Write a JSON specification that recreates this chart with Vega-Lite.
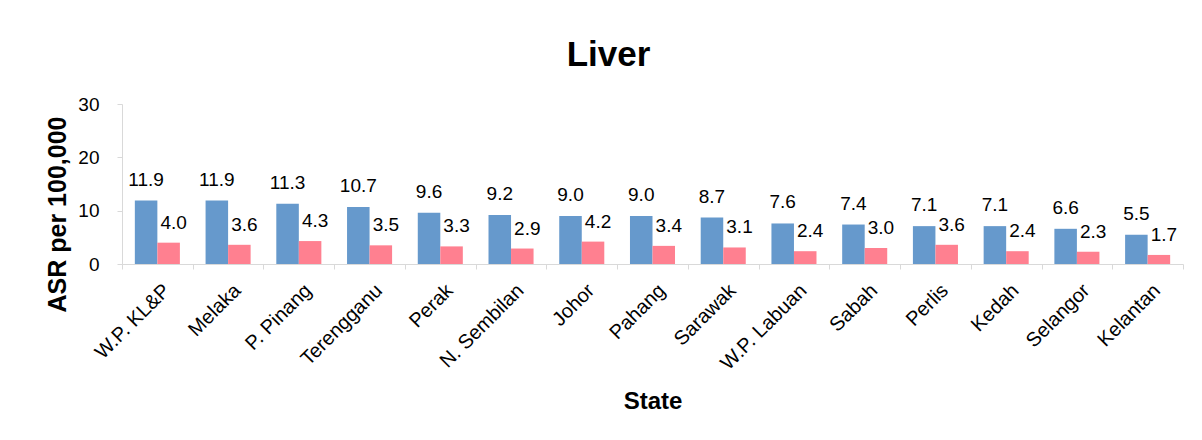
{
  "$schema": "https://vega.github.io/schema/vega-lite/v6.json",
  "width": 1061,
  "height": 160,
  "autosize": "none",
  "padding": {"left": 122, "top": 104, "right": 19, "bottom": 176},
  "background": "white",
  "config": {"font": "Liberation Sans", "view": {"stroke": null}},
  "title": {"text": "Liver", "fontSize": 35, "font": "Liberation Sans", "fontWeight": "bold", "color": "#000000", "anchor": "middle", "frame": "group", "baseline": "alphabetic", "offset": -6, "dx": -44},
  "data": {"values": [
    {"state": "W.P. KL&P", "sex": "Male", "asr": 11.9},
    {"state": "W.P. KL&P", "sex": "Female", "asr": 4.0},
    {"state": "Melaka", "sex": "Male", "asr": 11.9},
    {"state": "Melaka", "sex": "Female", "asr": 3.6},
    {"state": "P. Pinang", "sex": "Male", "asr": 11.3},
    {"state": "P. Pinang", "sex": "Female", "asr": 4.3},
    {"state": "Terengganu", "sex": "Male", "asr": 10.7},
    {"state": "Terengganu", "sex": "Female", "asr": 3.5},
    {"state": "Perak", "sex": "Male", "asr": 9.6},
    {"state": "Perak", "sex": "Female", "asr": 3.3},
    {"state": "N. Sembilan", "sex": "Male", "asr": 9.2},
    {"state": "N. Sembilan", "sex": "Female", "asr": 2.9},
    {"state": "Johor", "sex": "Male", "asr": 9.0},
    {"state": "Johor", "sex": "Female", "asr": 4.2},
    {"state": "Pahang", "sex": "Male", "asr": 9.0},
    {"state": "Pahang", "sex": "Female", "asr": 3.4},
    {"state": "Sarawak", "sex": "Male", "asr": 8.7},
    {"state": "Sarawak", "sex": "Female", "asr": 3.1},
    {"state": "W.P. Labuan", "sex": "Male", "asr": 7.6},
    {"state": "W.P. Labuan", "sex": "Female", "asr": 2.4},
    {"state": "Sabah", "sex": "Male", "asr": 7.4},
    {"state": "Sabah", "sex": "Female", "asr": 3.0},
    {"state": "Perlis", "sex": "Male", "asr": 7.1},
    {"state": "Perlis", "sex": "Female", "asr": 3.6},
    {"state": "Kedah", "sex": "Male", "asr": 7.1},
    {"state": "Kedah", "sex": "Female", "asr": 2.4},
    {"state": "Selangor", "sex": "Male", "asr": 6.6},
    {"state": "Selangor", "sex": "Female", "asr": 2.3},
    {"state": "Kelantan", "sex": "Male", "asr": 5.5},
    {"state": "Kelantan", "sex": "Female", "asr": 1.7}
  ]},
  "encoding": {
    "x": {
      "field": "state", "type": "nominal", "sort": null,
      "scale": {"paddingInner": 0, "paddingOuter": 0},
      "axis": {
        "title": "State", "titleFontSize": 24, "titleFontWeight": "bold", "titleColor": "#000000",
        "titleY": 144, "titleBaseline": "alphabetic",
        "labelAngle": -45, "labelAlign": "right", "labelBaseline": "top", "labelPadding": 11,
        "labelFontSize": 20, "labelColor": "#000000", "labelOverlap": false, "labelOffset": 2,
        "tickBand": "extent", "tickSize": 5, "domainColor": "#D9D9D9", "tickColor": "#D9D9D9", "grid": false
      }
    },
    "xOffset": {"field": "sex", "type": "nominal", "scale": {"domain": ["Male", "Female"], "paddingInner": 0, "paddingOuter": 0.57}},
    "y": {
      "field": "asr", "type": "quantitative",
      "scale": {"domain": [0, 30], "nice": false},
      "axis": {
        "title": "ASR per 100,000", "titleFontSize": 25, "titleFontWeight": "bold", "titleColor": "#000000",
        "titleX": -57, "titleY": 110, "titleBaseline": "alphabetic", "titleAngle": -90, "titleAlign": "center",
        "values": [0, 10, 20, 30], "labelFontSize": 19, "labelColor": "#000000", "labelPadding": 18,
        "tickSize": 5, "grid": false, "domainColor": "#D9D9D9", "tickColor": "#D9D9D9"
      }
    }
  },
  "layer": [
    {
      "mark": {"type": "bar"},
      "encoding": {
        "color": {"field": "sex", "type": "nominal", "scale": {"domain": ["Male", "Female"], "range": ["#6699CC", "#FF8090"]}, "legend": null}
      }
    },
    {
      "transform": [{"filter": "datum.sex === 'Male'"}],
      "mark": {"type": "text", "baseline": "alphabetic", "dy": -15, "fontSize": 19, "color": "#000000"},
      "encoding": {"text": {"field": "asr", "type": "quantitative", "format": ".1f"}}
    },
    {
      "transform": [{"filter": "datum.sex === 'Female'"}],
      "mark": {"type": "text", "baseline": "alphabetic", "dy": -14, "dx": 5, "fontSize": 19, "color": "#000000"},
      "encoding": {"text": {"field": "asr", "type": "quantitative", "format": ".1f"}}
    }
  ]
}
